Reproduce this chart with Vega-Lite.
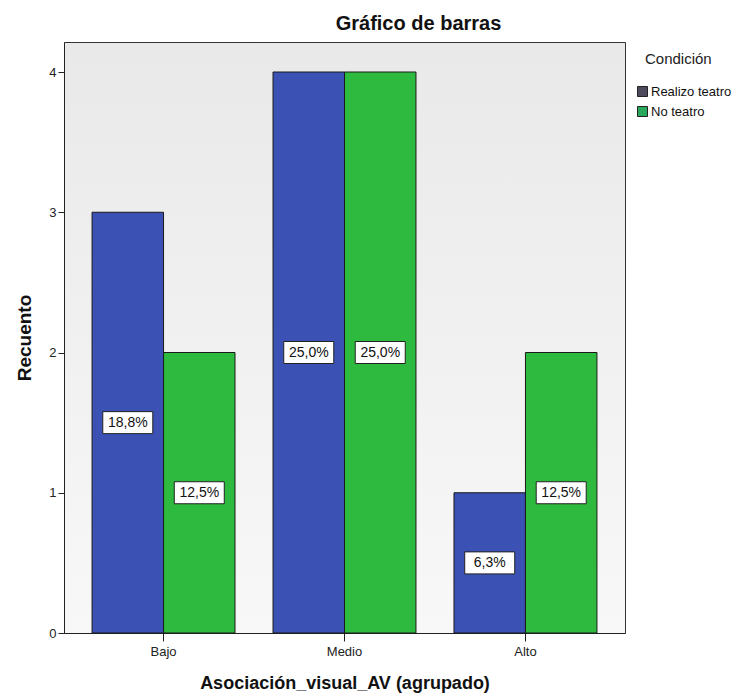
{
  "$schema": "https://vega.github.io/schema/vega-lite/v6.json",
  "width": 561,
  "height": 591,
  "autosize": {"type": "none"},
  "padding": {"left": 64, "top": 42, "right": 111, "bottom": 66},
  "background": "white",
  "title": {
    "text": "Gráfico de barras",
    "font": "Liberation Sans",
    "fontSize": 20,
    "fontWeight": "bold",
    "color": "#111111",
    "anchor": "middle",
    "dx": 74,
    "dy": 21,
    "baseline": "alphabetic",
    "offset": 13
  },
  "config": {
    "font": "Liberation Sans",
    "view": {
      "stroke": "#333333",
      "strokeWidth": 1,
      "fill": {
        "gradient": "linear",
        "x1": 0, "y1": 0, "x2": 0, "y2": 1,
        "stops": [
          {"offset": 0, "color": "#e9e9e9"},
          {"offset": 1, "color": "#f8f8f8"}
        ]
      }
    }
  },
  "data": {
    "values": [
      {"Grupo": "Bajo", "Condicion": "Realizo teatro", "Recuento": 3},
      {"Grupo": "Bajo", "Condicion": "No teatro", "Recuento": 2},
      {"Grupo": "Medio", "Condicion": "Realizo teatro", "Recuento": 4},
      {"Grupo": "Medio", "Condicion": "No teatro", "Recuento": 4},
      {"Grupo": "Alto", "Condicion": "Realizo teatro", "Recuento": 1},
      {"Grupo": "Alto", "Condicion": "No teatro", "Recuento": 2}
    ]
  },
  "transform": [
    {"joinaggregate": [{"op": "sum", "field": "Recuento", "as": "Total"}]},
    {"calculate": "replace(format(datum.Recuento / datum.Total, '.1%'), '.', ',')", "as": "Porcentaje"},
    {"calculate": "datum.Recuento / 2", "as": "Centro"}
  ],
  "encoding": {
    "x": {
      "field": "Grupo",
      "type": "nominal",
      "sort": ["Bajo", "Medio", "Alto"],
      "scale": {"paddingInner": 0, "paddingOuter": 0.05},
      "axis": {
        "title": "Asociación_visual_AV (agrupado)",
        "titleFontSize": 18,
        "titleFontWeight": "bold",
        "titleColor": "#111111",
        "titlePadding": 16,
        "labelAngle": 0,
        "labelFontSize": 13,
        "labelColor": "#222222",
        "labelPadding": 4,
        "tickSize": 8,
        "tickColor": "#222222",
        "domainColor": "#222222",
        "grid": false
      }
    },
    "xOffset": {
      "field": "Condicion",
      "type": "nominal",
      "sort": ["Realizo teatro", "No teatro"],
      "scale": {"paddingInner": 0, "paddingOuter": 0.266}
    }
  },
  "layer": [
    {
      "mark": {"type": "bar", "stroke": "#1a1a1a", "strokeWidth": 1},
      "encoding": {
        "y": {
          "field": "Recuento",
          "type": "quantitative",
          "scale": {"domain": [0, 4.214], "nice": false},
          "axis": {
            "title": "Recuento",
            "titleFontSize": 19,
            "titleFontWeight": "bold",
            "titleColor": "#111111",
            "titlePadding": 14,
            "values": [0, 1, 2, 3, 4],
            "format": "d",
            "labelFontSize": 13,
            "labelColor": "#222222",
            "labelPadding": 2,
            "tickSize": 6,
            "tickColor": "#222222",
            "domainColor": "#222222",
            "grid": false
          }
        },
        "color": {
          "condition": {"test": "datum.Condicion === 'Realizo teatro'", "value": "#3b52b4"},
          "value": "#2dba3e"
        }
      }
    },
    {
      "mark": {"type": "point", "shape": "square", "filled": true, "opacity": 0},
      "encoding": {
        "y": {"field": "Recuento", "type": "quantitative"},
        "fill": {
          "field": "Condicion",
          "type": "nominal",
          "scale": {"domain": ["Realizo teatro", "No teatro"], "range": ["#4c4a5c", "#28a85c"]},
          "legend": {
            "title": "Condición",
            "orient": "none",
            "legendX": 572,
            "legendY": 10,
            "padding": 0,
            "titleFontSize": 15,
            "titleFontWeight": "normal",
            "titleColor": "#222222",
            "titlePadding": 18,
            "labelFontSize": 13,
            "labelColor": "#111111",
            "labelOffset": 2,
            "rowPadding": 5,
            "symbolType": "square",
            "symbolSize": 100,
            "symbolStrokeColor": "#222222",
            "symbolStrokeWidth": 1,
            "symbolOpacity": 1,
            "encoding": {
              "title": {"dx": {"value": 9}}
            }
          }
        }
      }
    },
    {
      "mark": {
        "type": "point",
        "shape": "M-1,-0.44H1V0.44H-1Z",
        "size": 2500,
        "filled": true,
        "fill": "white",
        "stroke": "#222222",
        "strokeWidth": 1,
        "opacity": 1
      },
      "encoding": {
        "y": {"field": "Centro", "type": "quantitative"}
      }
    },
    {
      "mark": {"type": "text", "fontSize": 14, "color": "#111111", "baseline": "middle", "align": "center"},
      "encoding": {
        "y": {"field": "Centro", "type": "quantitative"},
        "text": {"field": "Porcentaje"}
      }
    }
  ]
}
